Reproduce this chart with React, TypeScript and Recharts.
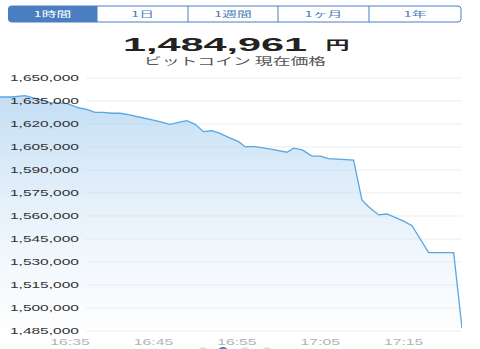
import { Area, AreaChart, CartesianGrid, XAxis, YAxis } from "recharts";

// minutes after 16:00
const minutes = [
  26.6, 28, 29.6, 31.2, 32.6, 34.6, 36, 37, 38, 39, 40, 41, 42, 43.4, 45, 46.2,
  47, 48, 49, 50, 51, 52, 53, 54, 55.2, 56, 57.2, 59.25, 61, 61.8, 62.85, 64,
  65, 66, 69, 70, 70.8, 72, 73, 75, 76, 78, 81, 82,
];
// price in JPY
const prices = [
  1637600, 1637600, 1638500, 1636300, 1633900, 1633500, 1630600, 1629600,
  1627600, 1627600, 1627000, 1627000, 1626100, 1624400, 1622600, 1620900,
  1619800, 1621100, 1622200, 1619800, 1615000, 1615600, 1613900, 1611300,
  1608500, 1605200, 1605200, 1603500, 1601600, 1604200, 1603100, 1599100,
  1599100, 1597400, 1596500, 1570500, 1566100, 1560700, 1561300, 1556700,
  1553700, 1536100, 1536100, 1486800,
];
const xTicks = [35, 45, 55, 65, 75];
const yTicks = [
  1485000, 1500000, 1515000, 1530000, 1545000, 1560000, 1575000, 1590000,
  1605000, 1620000, 1635000, 1650000,
];
const ranges = ["1時間", "1日", "1週間", "1ヶ月", "1年"];
const currentPrice = "1,484,961";

const data = minutes.map((t, i) => ({ t, v: prices[i] }));

const BLUE = "#4b7ec0";
const FONT = "'Liberation Sans', Arial, sans-serif";
const JP = "'Noto Sans CJK JP', sans-serif";

const fmtTime = (t: number) =>
  `${16 + Math.floor(t / 60)}:${String(t % 60).padStart(2, "0")}`;

const YTick = (props: any) => (
  <g transform={`translate(10,${props.y}) scale(1.72,1)`}>
    <text x={0} y={0} dy="0.35em" fontSize={9} fill="#333" fontFamily={FONT}>
      {Number(props.payload.value).toLocaleString("en-US")}
    </text>
  </g>
);

const XTick = (props: any) => (
  <g transform={`translate(${props.x},${props.y + 2.5}) scale(1.75,1)`}>
    <text x={0} y={0} dy="0.35em" textAnchor="middle" fontSize={9} fill="#b4b4b4" fontFamily={FONT}>
      {fmtTime(props.payload.value)}
    </text>
  </g>
);

const GridLine = (props: any) => (
  <line key={props.key} x1={86} x2={props.x2} y1={props.y1} y2={props.y2} stroke="#ededed" strokeWidth={1} />
);

function Header() {
  const edges = [8, 97, 188, 278, 369, 461];
  return (
    <svg width={480} height={349} style={{ position: "absolute", left: 0, top: 0, pointerEvents: "none" }}>
      <rect x={8.5} y={6} width={452.5} height={16} rx={3} fill="#fff" stroke={BLUE} strokeWidth={1} />
      <path d="M8.5 9 a3 3 0 0 1 3 -3 H97 V22 H11.5 a3 3 0 0 1 -3 -3 Z" fill={BLUE} />
      {edges.slice(1, 5).map((x) => (
        <line key={x} x1={x} x2={x} y1={6} y2={22} stroke={BLUE} strokeWidth={1} />
      ))}
      {ranges.map((r, i) => (
        <g key={r} transform={`translate(${(edges[i] + edges[i + 1]) / 2},14.3) scale(1.85,1)`}>
          <text x={0} y={0} dy="0.35em" textAnchor="middle" fontSize={8} fill={i === 0 ? "#fff" : BLUE} fontFamily={JP}>
            {r}
          </text>
        </g>
      ))}
      <g transform="translate(215,50.7) scale(2.3,1)">
        <text x={0} y={0} textAnchor="middle" fontSize={18} fontWeight="bold" fill="#222" fontFamily={FONT}>
          {currentPrice}
        </text>
      </g>
      <g transform="translate(337.5,50) scale(2,1)">
        <text x={0} y={0} textAnchor="middle" fontSize={12} fontWeight="bold" fill="#222" fontFamily={JP}>
          円
        </text>
      </g>
      <g transform="translate(235,64.5) scale(1.7,1)">
        <text x={0} y={0} textAnchor="middle" fontSize={10.5} fill="#555" fontFamily={JP}>
          ビットコイン 現在価格
        </text>
      </g>
      {[203, 223, 245, 267].map((x, i) => (
        <ellipse key={x} cx={x} cy={351} rx={5} ry={4} fill={i === 1 ? BLUE : "#e2e2e2"} />
      ))}
    </svg>
  );
}

export default function App() {
  return (
    <div style={{ position: "absolute", left: 0, top: 0, width: 480, height: 349, background: "#fff" }}>
      <AreaChart width={480} height={349} data={data} margin={{ top: 78, right: 18, bottom: 0, left: 0 }}>
        <defs>
          <linearGradient id="fillGrad" x1="0" y1="0" x2="0" y2="1">
            <stop offset="0%" stopColor="#a9cff0" stopOpacity={0.7} />
            <stop offset="100%" stopColor="#d6e8f7" stopOpacity={0.05} />
          </linearGradient>
        </defs>
        <CartesianGrid vertical={false} horizontal={GridLine} />
        <XAxis
          dataKey="t"
          type="number"
          domain={[26.6, 82]}
          ticks={xTicks}
          allowDataOverflow
          height={18}
          tickLine={false}
          axisLine={false}
          tick={XTick}
        />
        <YAxis
          type="number"
          domain={[1485000, 1650000]}
          ticks={yTicks}
          interval={0}
          mirror
          tickLine={false}
          axisLine={false}
          tick={YTick}
        />
        <Area
          type="linear"
          dataKey="v"
          stroke="#5aa6e0"
          strokeWidth={1.3}
          fill="url(#fillGrad)"
          fillOpacity={1}
          isAnimationActive={false}
          dot={false}
          activeDot={false}
        />
      </AreaChart>
      <Header />
    </div>
  );
}
